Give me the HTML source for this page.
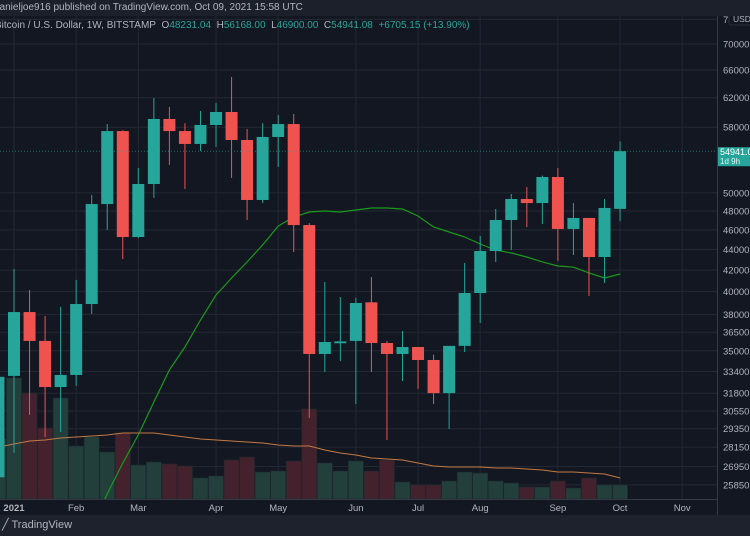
<!DOCTYPE html>
<html><head><meta charset="utf-8"><style>
html,body{margin:0;padding:0;background:#131722;width:750px;height:536px;overflow:hidden;font-family:"Liberation Sans",sans-serif}
svg{display:block}
</style></head><body>
<svg id="chart" width="750" height="536" xmlns="http://www.w3.org/2000/svg">
<rect x="0" y="0" width="750" height="536" fill="#131722"/>
<g id="grid"></g>
<g id="volume"></g>
<g id="lines"></g>
<g id="candles"></g>
<g id="axis"></g>
<g id="xaxis"></g>
</svg>
<script>
const weeks = ["Dec28","Jan04","Jan11","Jan18","Jan25","Feb01","Feb08","Feb15","Feb22","Mar01","Mar08","Mar15","Mar22","Mar29","Apr05","Apr12","Apr19","Apr26","May03","May10","May17","May24","May31","Jun07","Jun14","Jun21","Jun28","Jul05","Jul12","Jul19","Jul26","Aug02","Aug09","Aug16","Aug23","Aug30","Sep06","Sep13","Sep20","Sep27","Oct04"];
const opens  = [26300,33070,38200,35790,32250,33140,38900,48760,57500,45260,51020,59090,57500,55850,58300,60030,56350,49210,56740,58420,46500,34750,35600,35790,39050,35620,34750,35300,34280,31810,35390,39880,43850,47030,49320,48870,51830,46090,47250,43260,48231.04];
const highs  = [34800,42100,40150,37860,38650,41080,49760,58420,57600,52890,61960,60720,58520,60170,61270,64970,57770,58520,59630,59760,46700,40890,39520,39450,41350,35790,36600,35300,34700,35390,42680,45360,48220,49880,50670,52000,52890,48870,47250,49320,56168];
const lows   = [25900,27800,30280,28800,29130,32330,38030,45980,43060,45150,49430,53260,50450,54970,55470,51720,47030,48870,53020,43750,30070,33360,34200,31030,33360,28610,32690,32110,31030,29330,34900,37270,42780,43950,46290,46610,42880,43460,39610,40790,46900];
const closes = [33000,38200,35790,32250,33140,38900,48760,57500,45260,51020,59090,57500,55850,58300,60030,56350,49210,56740,58420,46500,34750,35700,35750,38990,35620,34750,35300,34280,31810,35390,39880,43850,47030,49320,48870,51830,46090,47250,43260,48330,54941.08];
const volumes = [60,121,106,71,101,53,62,47,66,34,37,35,33,21,23,39,42,27,28,38,90,36,28,38,28,39,17,14,14,18,27,26,18,16,12,12,18,11,21,14,14];
const volumeMA = [52,55,58,59,61,62,63,64,66,66,66,64,62,60,59,58,57,56,54,53,53,49,46,44,41,40,39,36,33,32,32,32,31,31,30,29,27,27,26,25,21];
const priceMA = [null,null,null,null,null,null,23500,25330,27160,28940,31180,33520,35300,37520,39700,41260,42780,44450,46390,47350,47890,48000,47890,48110,48330,48330,48220,47460,46290,45770,45260,44550,43950,43650,43260,42780,42390,42280,41730,41260,41630];
const priceTicks = [74000,70000,66000,62000,58000,50000,48000,46000,44000,42000,40000,38000,36500,35000,33400,31800,30550,29350,28150,26950,25850];
const monthLabels = ["2021","Feb","Mar","Apr","May","Jun","Jul","Aug","Sep","Oct","Nov"];
const monthBarIndex = [1,5,9,14,18,23,27,31,36,40,44];

const NS="http://www.w3.org/2000/svg";
const PLOT_R=717, PLOT_B=499, PLOT_T=16;
function xOf(i){return 14+(i-1)*15.54;}
function yOf(p){return 44+442.6*Math.log(70000/p);}
function yVol(v){return PLOT_B - v;}
function mk(tag,attrs,parent){const e=document.createElementNS(NS,tag);for(const k in attrs)e.setAttribute(k,attrs[k]);parent.appendChild(e);return e;}

const grid=document.getElementById('grid');
priceTicks.forEach(t=>{
  const l=mk('line',{x1:0,x2:PLOT_R,y1:yOf(t),y2:yOf(t),stroke:'#242833','stroke-width':1},grid);
  
  
});
monthBarIndex.forEach(i=>{
  const l=mk('line',{x1:xOf(i),x2:xOf(i),y1:PLOT_T,y2:PLOT_B,stroke:'#242833','stroke-width':1},grid);
  
  
});

const vg=document.getElementById('volume');
volumes.forEach((v,i)=>{
  const up=closes[i]>=opens[i];
  const r=mk('rect',{x:xOf(i)-7.5,y:yVol(v),width:15,height:v,fill:up?'#233f3c':'#43222d',stroke:'#1b2a2c','stroke-width':0.6},vg);
  
  
});

const lg=document.getElementById('lines');
let d='';volumeMA.forEach((v,i)=>{d+=(i?'L':'M')+xOf(i).toFixed(1)+' '+yVol(v).toFixed(1);});
const vma=mk('path',{d:d,fill:'none',stroke:'#c47a42','stroke-width':1},lg);


let d2='';let started=false;
priceMA.forEach((v,i)=>{if(v==null)return;d2+=(started?'L':'M')+xOf(i).toFixed(1)+' '+yOf(v).toFixed(1);started=true;});
const clip=mk('clipPath',{id:'plotclip'},lg);mk('rect',{x:0,y:PLOT_T,width:PLOT_R,height:PLOT_B-PLOT_T},clip);
const pma=mk('path',{d:d2,fill:'none',stroke:'#1a9a1a','stroke-width':1.2,'clip-path':'url(#plotclip)'},lg);



const cg=document.getElementById('candles');
opens.forEach((o,i)=>{
  const c=closes[i],h=highs[i],l=lows[i],up=c>=o,col=up?'#26a69a':'#ef5350',x=xOf(i);
  const g=mk('g',{},cg);
  
  
  mk('line',{x1:x,x2:x,y1:yOf(h),y2:yOf(l),stroke:col,'stroke-width':1},g);
  const top=yOf(Math.max(o,c)),bot=yOf(Math.min(o,c));
  mk('rect',{x:x-6,y:top,width:12,height:Math.max(1,bot-top),fill:col},g);
});

const lp=closes[closes.length-1];
const dl=mk('line',{x1:0,x2:PLOT_R,y1:yOf(lp),y2:yOf(lp),stroke:'#26a69a','stroke-width':1,'stroke-dasharray':'1 2',opacity:0.6},cg);



const ax=document.getElementById('axis');
priceTicks.forEach(t=>{
  const tx=mk('text',{x:723,y:yOf(t)+3.5,fill:'#b2b5be','font-size':'9.5'},ax);
  tx.textContent=t.toFixed(2);
  
  
});
const badge=mk('rect',{x:729,y:13,width:22,height:12,rx:2,fill:'#131722',stroke:'#2a2e39'},ax);


const bt=mk('text',{x:733,y:22,fill:'#b2b5be','font-size':'8.5'},ax);bt.textContent='USD';


const pb=mk('rect',{x:717,y:yOf(lp)-4,width:33,height:19,fill:'#26a69a'},ax);


const pt=mk('text',{x:720,y:yOf(lp)+4,fill:'#ffffff','font-size':'9'},ax);pt.textContent=lp.toFixed(2);


const ct=mk('text',{x:720,y:yOf(lp)+13,fill:'#e0f2f1','font-size':'8'},ax);ct.textContent='1d 9h';


const sep=mk('line',{x1:PLOT_R+0.5,x2:PLOT_R+0.5,y1:PLOT_T,y2:515,stroke:'#363a45'},ax);



const xg=document.getElementById('xaxis');
const xb=mk('line',{x1:0,x2:PLOT_R,y1:PLOT_B+0.5,y2:PLOT_B+0.5,stroke:'#363a45'},xg);


monthLabels.forEach((m,k)=>{
  const t=mk('text',{x:xOf(monthBarIndex[k]),y:511,fill:'#b2b5be','font-size':'9.5','text-anchor':'middle','font-weight':k===0?'bold':'normal'},xg);
  t.textContent=m;
  
  
});
</script>
<div style="position:absolute;left:0;top:0;width:750px;height:16px;background:#1c202b;color:#b2b5be;font-size:10px;line-height:16px;white-space:nowrap;overflow:hidden"><span style="position:relative;left:-6px">danieljoe916 published on TradingView.com, Oct 09, 2021 15:58 UTC</span></div>
<div style="position:absolute;left:-5px;top:20px;color:#b2b5be;font-size:10px;white-space:nowrap">Bitcoin / U.S. Dollar, 1W, BITSTAMP&nbsp;&nbsp;O<span style="color:#26a69a">48231.04</span>&nbsp; H<span style="color:#26a69a">56168.00</span>&nbsp; L<span style="color:#26a69a">46900.00</span>&nbsp; C<span style="color:#26a69a">54941.08</span>&nbsp; <span style="color:#26a69a">+6705.15 (+13.90%)</span></div>
<div style="position:absolute;left:0;top:515px;width:750px;height:21px;background:#1e222d;color:#b2b5be;font-size:11px;line-height:21px;white-space:nowrap"><span style="padding-left:2px">&#x2571; TradingView</span></div>
</body></html>
